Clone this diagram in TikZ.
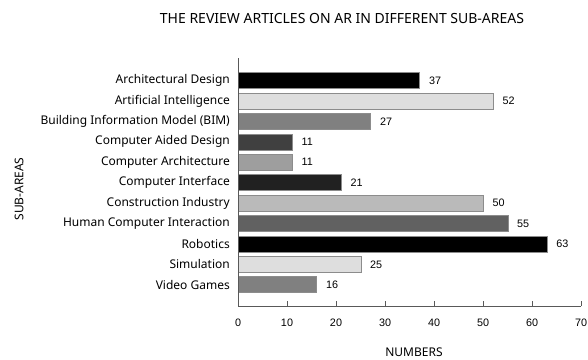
\documentclass[tikz,border=0pt]{standalone}
\usepackage{fontspec}
\setmainfont{Noto Sans}
\newfontfamily\numfont{Liberation Sans}
\begin{document}
\begin{tikzpicture}[x=1pt,y=-1pt,
  lab/.style={anchor=east,inner sep=0pt,font=\fontsize{12}{13}\selectfont},
  barbox/.style={draw=black!45,line width=0.5pt,inner sep=0pt,minimum height=16pt,anchor=west},
  val/.style={anchor=west,inner sep=0pt,font=\numfont\fontsize{10.8}{12}\selectfont},
  tick/.style={anchor=center,inner sep=0pt,font=\numfont\fontsize{10.8}{12}\selectfont},
  axis/.style={draw=black!65,line width=0.7pt}]
\useasboundingbox (0,0) rectangle (588,359);
\node[font=\fontsize{14}{16}\selectfont,inner sep=0pt] (title) at (342,18) {THE REVIEW ARTICLES ON AR IN DIFFERENT SUB-AREAS};
\foreach \i/\name/\v/\c in {
  0/Architectural Design/37/black,
  1/Artificial Intelligence/52/black!13,
  2/Building Information Model (BIM)/27/black!50,
  3/Computer Aided Design/11/black!75,
  4/Computer Architecture/11/black!38,
  5/Computer Interface/21/black!87,
  6/Construction Industry/50/black!27,
  7/Human Computer Interaction/55/black!62,
  8/Robotics/63/black,
  9/Simulation/25/black!13,
  10/Video Games/16/black!50}{
  \pgfmathsetmacro{\yy}{80.5+20.42*\i}
  \pgfmathsetmacro{\ww}{4.9*\v}
  \node[lab] (lab\i) at (230,\yy) {\name};
  \node[barbox,fill=\c,minimum width=\ww pt] (bar\i) at (238,\yy) {};
  \node[val] (val\i) at ([xshift=9pt]bar\i.east) {\v};
}
\coordinate (o) at (238,306);
\coordinate (top) at (238,58);
\coordinate (xend) at (581,306);
\draw[axis] (top) -- (o) -- (xend);
\foreach \t in {0,10,...,70}{
  \coordinate (tk\t) at (238+4.9*\t,306);
  \draw[axis] (tk\t) -- ++(0,-5.5);
  \node[tick] (tl\t) at ([yshift=-16.5pt]tk\t) {\t};
}
\node[font=\fontsize{12}{13}\selectfont,inner sep=0pt] (xlab) at (414,352) {NUMBERS};
\node[font=\fontsize{12}{13}\selectfont,inner sep=0pt,rotate=90] (ylab) at (19,189) {SUB-AREAS};
\end{tikzpicture}
\end{document}
